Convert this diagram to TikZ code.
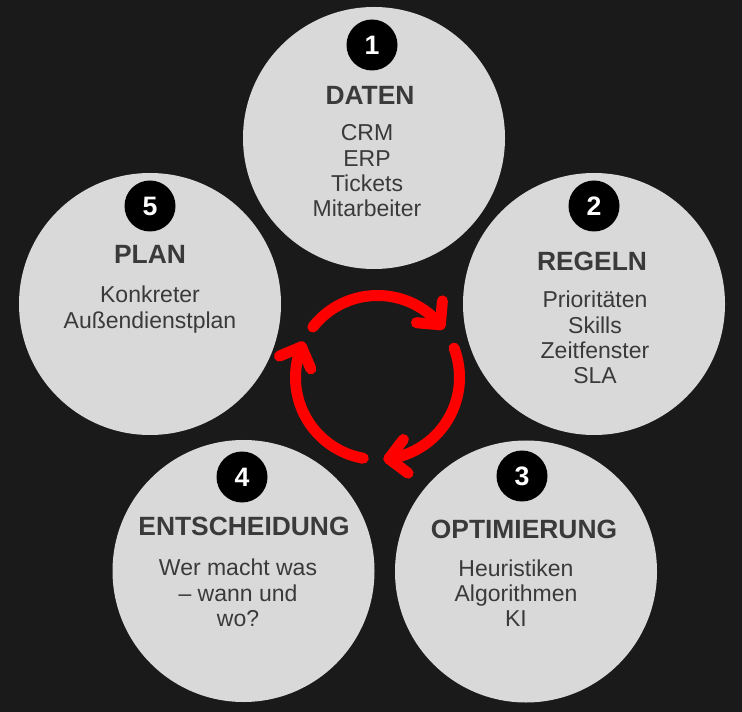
\documentclass[tikz,border=0pt]{standalone}
\usepackage{fontspec}
\setmainfont{Liberation Sans}
\definecolor{bgcol}{HTML}{1A1A1A}
\definecolor{disccol}{HTML}{D9D9D9}
\definecolor{txtcol}{HTML}{3A3A3A}
\definecolor{cycred}{HTML}{FF0000}
\begin{document}
\begin{tikzpicture}[x=0.75pt,y=-0.75pt,
  disc/.style={circle, fill=disccol, minimum size=196.5pt, inner sep=0pt},
  badge/.style={circle, fill=black, minimum size=38.25pt, inner sep=0pt, text=white, font=\fontsize{20}{24}\selectfont\bfseries},
  ttl/.style={text=txtcol, font=\fontsize{19.8}{24}\selectfont\bfseries, inner sep=0pt},
  bdy/.style={text=txtcol, font=\fontsize{17.25}{19}\selectfont, align=center, inner sep=0pt},
  cyc/.style={draw=cycred, line width=8.25pt, line cap=round, line join=round}]
\fill[bgcol] (0,0) rectangle (742,712);
\useasboundingbox (0,0) rectangle (742,712);

% discs
\node[disc] (c1) at (374,138) {};
\node[disc] (c2) at (594,304) {};
\node[disc] (c3) at (526,571.5) {};
\node[disc] (c4) at (243.5,571) {};
\node[disc] (c5) at (150,304) {};

% badges
\node[badge] (b1) at (372,45) {1};
\node[badge] (b2) at (594,206) {2};
\node[badge] (b3) at (522,476) {3};
\node[badge] (b4) at (242,477) {4};
\node[badge] (b5) at (150,206) {5};

% titles
\node[ttl] (t1) at (370,95) {DATEN};
\node[ttl] (t2) at (592,261) {REGELN};
\node[ttl] (t3) at (524,529) {OPTIMIERUNG};
\node[ttl] (t4) at (244,526) {ENTSCHEIDUNG};
\node[ttl] (t5) at (150,254) {PLAN};

% bodies
\node[bdy] (d1) at (367,171) {CRM\\ERP\\Tickets\\Mitarbeiter};
\node[bdy] (d2) at (595,337.5) {Prioritäten\\Skills\\Zeitfenster\\SLA};
\node[bdy] (d3) at (516,593) {Heuristiken\\Algorithmen\\KI};
\node[bdy] (d4) at (238,593) {Wer macht was\\– wann und\\wo?};
\node[bdy] (d5) at (150,309.5) {Konkreter\\Außendienstplan};

% cycle arrows
\coordinate (cyc) at (377.5,377.5);
\foreach \s/\e in {142/40, 21/-82, -100/-202} {
  \draw[cyc] plot[domain=\s:\e, samples=60] ({377.5+82*cos(\x)},{377.5-82*sin(\x)});
  \draw[cyc] ({377.5+82*cos(\e)+24*cos(\e+45)},{377.5-82*sin(\e)-24*sin(\e+45)})
    -- ({377.5+82*cos(\e)},{377.5-82*sin(\e)})
    -- ({377.5+82*cos(\e)+24*cos(\e+135)},{377.5-82*sin(\e)-24*sin(\e+135)});
}
\end{tikzpicture}
\end{document}
